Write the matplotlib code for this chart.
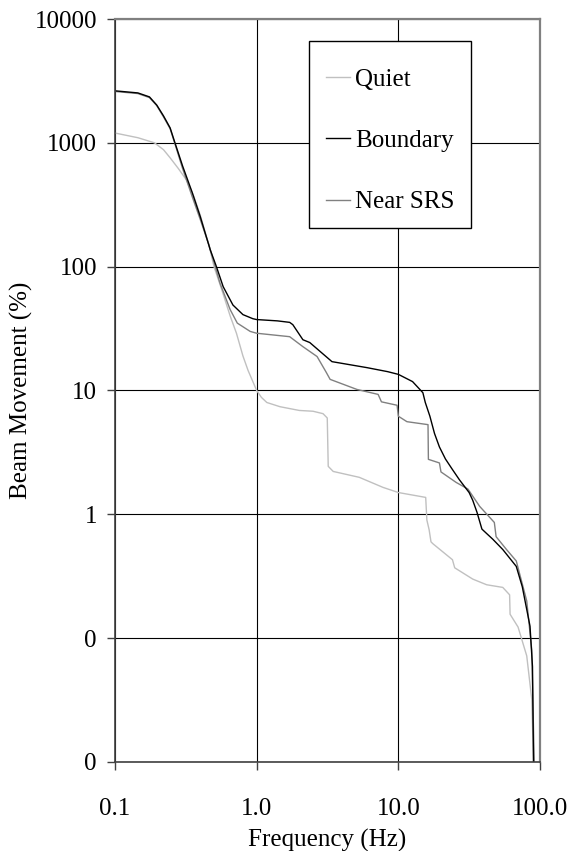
import matplotlib
matplotlib.use("Agg")
import matplotlib.pyplot as plt
from matplotlib.patches import Rectangle
from matplotlib.ticker import FixedLocator, FixedFormatter, NullLocator

plt.rcParams['font.family'] = ['Liberation Serif', 'DejaVu Serif']
plt.rcParams['font.size'] = 18

# ---- data ----
quiet_x = [0.1, 0.145, 0.19, 0.22, 0.245, 0.28, 0.32, 0.36, 0.40, 0.46, 0.50, 0.57,
           0.65, 0.72, 0.8, 0.87, 0.94, 1.0, 1.08, 1.18, 1.46, 2.0, 2.5, 2.94, 3.15,
           3.2, 3.47, 5.3, 7.8, 10.0, 15.6, 15.9, 16.5, 17.0, 17.5, 24.1, 25.0,
           33.5, 42.0, 54.6, 61.0, 61.5, 70.0, 80.6, 87.5, 90.0]
quiet_y = [1200, 1100, 1000, 880, 757, 620, 500, 370, 260, 150, 100, 64,
           40, 29, 19, 14.5, 11.8, 10.0, 8.8, 8.0, 7.4, 6.9, 6.8, 6.5, 6.0,
           2.44, 2.22, 1.99, 1.65, 1.5, 1.37, 0.9, 0.75, 0.6, 0.58, 0.43, 0.37,
           0.30, 0.27, 0.257, 0.224, 0.156, 0.123, 0.072, 0.032, 0.01]

boundary_x = [0.1, 0.145, 0.175, 0.197, 0.22, 0.245, 0.265, 0.3, 0.35, 0.4, 0.47,
              0.52, 0.58, 0.68, 0.8, 0.94, 1.0, 1.4, 1.71, 1.8, 2.12, 2.37, 2.8,
              3.4, 6.0, 8.4, 10.0, 12.6, 14.9, 15.5, 16.7, 18.0, 19.5, 21.5, 24.1,
              27.0, 31.6, 33.5, 35.9, 38.9, 42.0, 46.4, 54.6, 68.0, 75.0, 85.0,
              88.5, 90.0]
boundary_y = [2630, 2530, 2350, 2020, 1650, 1320, 1000, 650, 400, 253, 137,
              100, 69, 49, 41, 38, 37.4, 36.5, 35.5, 34, 25.7, 24.4, 20.7,
              17.1, 15.3, 14.2, 13.5, 11.8, 9.6, 8.0, 6.2, 4.5, 3.5, 2.8, 2.3,
              1.9, 1.5, 1.3, 1.04, 0.76, 0.7, 0.63, 0.52, 0.38, 0.26, 0.125,
              0.059, 0.01]

near_x = [0.1, 0.145, 0.175, 0.197, 0.22, 0.245, 0.265, 0.3, 0.35, 0.4, 0.46,
          0.51, 0.55, 0.65, 0.73, 0.9, 1.0, 1.71, 2.12, 2.67, 3.1, 3.3, 5.1, 7.2,
          7.6, 9.8, 10.0, 11.5, 16.2, 16.3, 19.5, 20.0, 25.6, 31.0, 37.5, 47.6,
          49.0, 58.0, 68.0, 80.6, 87.5, 91.0]
near_y = [2600, 2500, 2320, 2000, 1620, 1300, 980, 620, 370, 240, 150,
          100, 74, 45, 35, 30, 29, 27.2, 22.6, 18.8, 14, 12.3, 10.2, 9.3,
          8.1, 7.6, 6.2, 5.6, 5.3, 2.78, 2.6, 2.2, 1.81, 1.6, 1.16, 0.86,
          0.66, 0.52, 0.42, 0.2, 0.08, 0.01]

series_names = ["Quiet", "Boundary", "Near SRS"]
x_ticks = [0.1, 1.0, 10.0, 100.0]
x_tick_labels = ["0.1", "1.0", "10.0", "100.0"]
y_ticks = [0.01, 0.1, 1, 10, 100, 1000, 10000]
y_tick_labels = ["0", "0", "1", "10", "100", "1000", "10000"]

fig = plt.figure(figsize=(5.72, 8.51), dpi=100)
ax = fig.add_axes([115/572, 1 - 762/851, 425/572, 743/851])

ax.plot(quiet_x, quiet_y, color="#c0c0c0", lw=1.0, label=series_names[0])
ax.plot(near_x, near_y, color="#808080", lw=1.0, label=series_names[2])
ax.plot(boundary_x, boundary_y, color="black", lw=1.0, label=series_names[1])

ax.set_xscale("log")
ax.set_yscale("log")
ax.set_xlim(0.1, 100)
ax.set_ylim(0.01, 10000)

ax.xaxis.set_major_locator(FixedLocator(x_ticks))
ax.xaxis.set_major_formatter(FixedFormatter(x_tick_labels))
ax.xaxis.set_minor_locator(NullLocator())
ax.yaxis.set_major_locator(FixedLocator(y_ticks))
ax.yaxis.set_major_formatter(FixedFormatter(y_tick_labels))
ax.yaxis.set_minor_locator(NullLocator())

ax.grid(True, which="major", color="black", lw=0.8)
ax.set_axisbelow(True)

ax.tick_params(axis="both", direction="out", length=6, width=1.0, color="#404040",
               labelsize=18)
ax.tick_params(axis="y", pad=7)
ax.tick_params(axis="x", pad=20)

for s in ["left", "bottom"]:
    ax.spines[s].set_color("#404040")
    ax.spines[s].set_linewidth(1.2)
for s in ["top", "right"]:
    ax.spines[s].set_color("#808080")
    ax.spines[s].set_linewidth(1.6)

ax.set_xlabel("Frequency (Hz)", fontsize=18, va="center")
ax.xaxis.set_label_coords(0.5, (762 - 840) / 743)
ax.set_ylabel("Beam Movement (%)", fontsize=18, va="center")
ax.yaxis.set_label_coords((21 - 115) / 425, 0.5)

# legend frame (white box with black edge)
box = Rectangle(((309 - 115) / 425, (762 - 228) / 743), 162 / 425, 187 / 743,
                transform=ax.transAxes, facecolor="white", edgecolor="black",
                lw=1.0, zorder=4, clip_on=False)
ax.add_patch(box)

handles, labels = ax.get_legend_handles_labels()
order = [labels.index(n) for n in series_names]
leg = ax.legend([handles[i] for i in order], [labels[i] for i in order],
                loc="upper left",
                bbox_to_anchor=((305 - 115) / 425, 1 - (47 - 19) / 743),
                borderaxespad=0, frameon=False, handlelength=0.95,
                handletextpad=0.2, labelspacing=1.55, borderpad=0.85, fontsize=18)
leg.set_zorder(5)

fig.savefig("out.png", dpi=100)
